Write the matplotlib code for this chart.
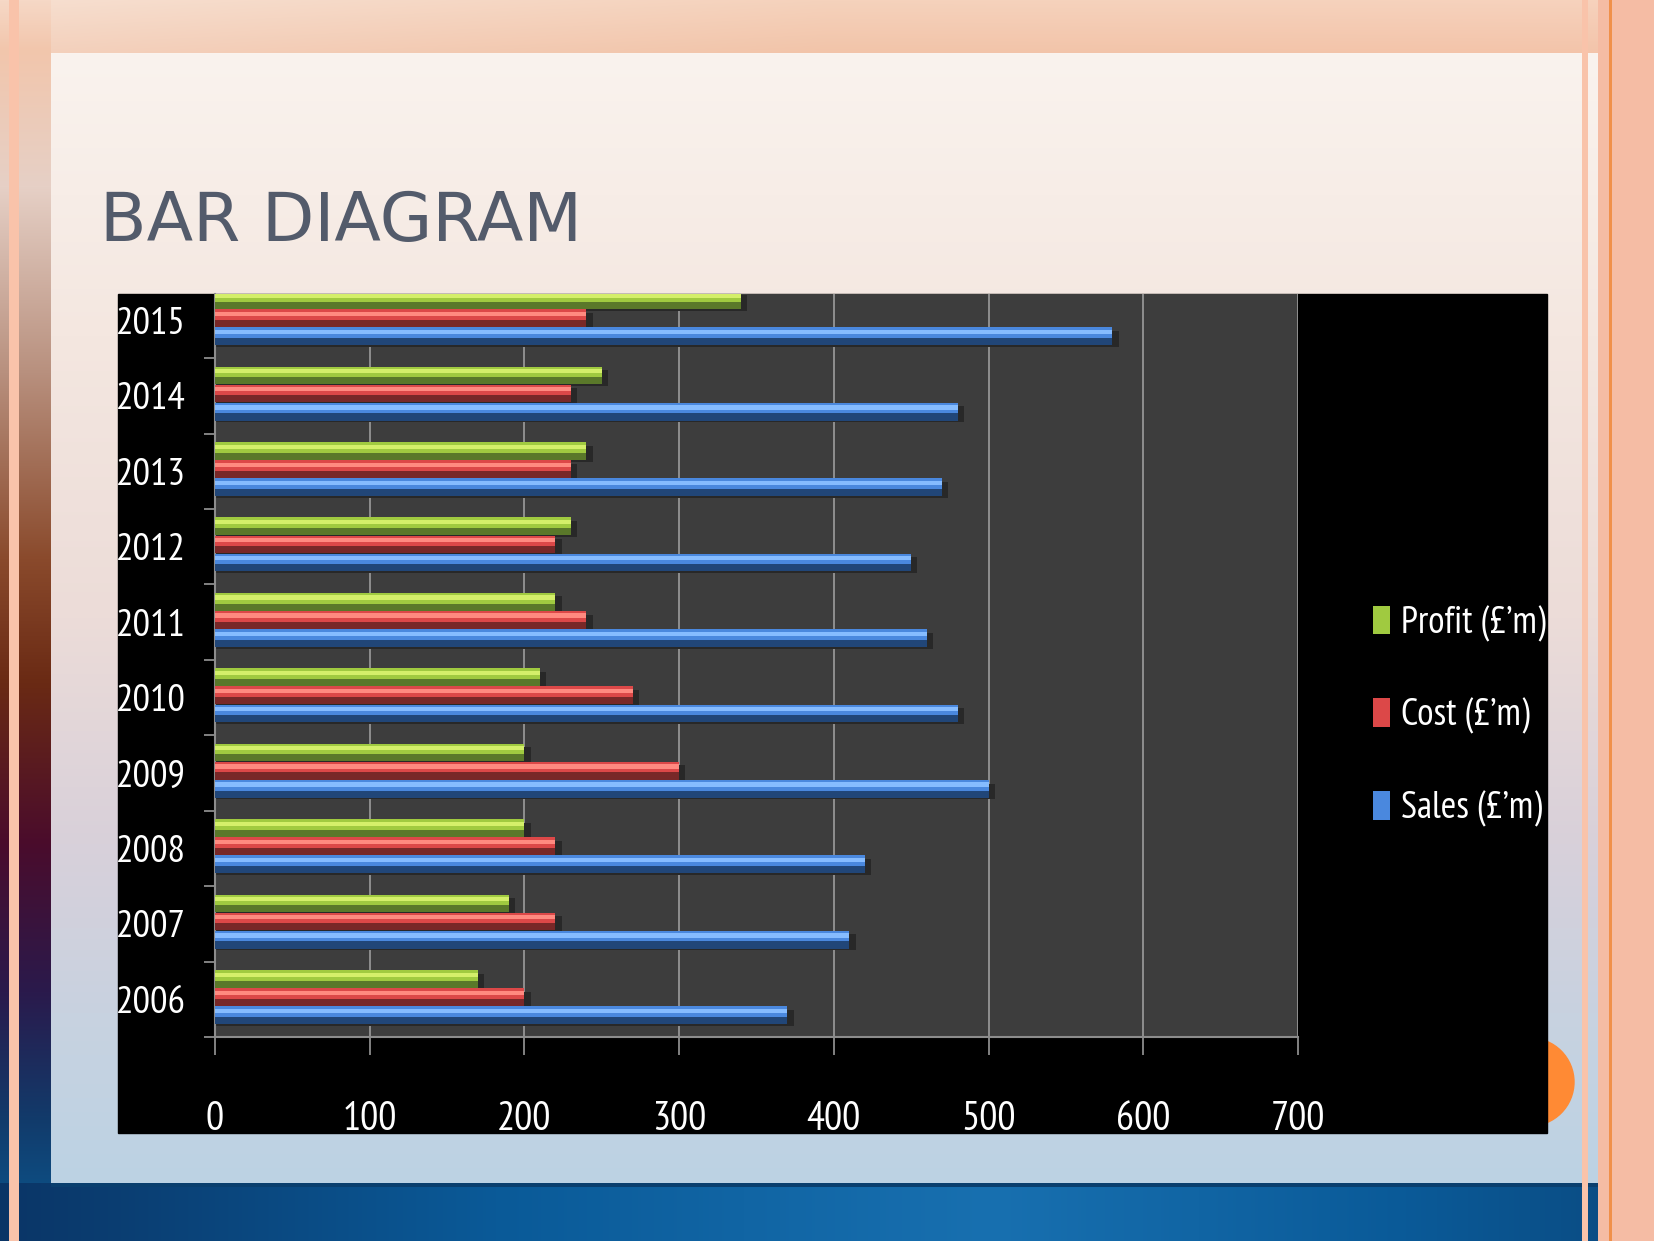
import numpy as np
import matplotlib
matplotlib.use('Agg')
import matplotlib.pyplot as plt
from matplotlib.patches import Rectangle, Circle
from matplotlib.transforms import Bbox, TransformedBbox
import logging
logging.getLogger('matplotlib.font_manager').setLevel(logging.ERROR)

# ---------------- data ----------------
years = ['2006', '2007', '2008', '2009', '2010', '2011', '2012', '2013', '2014', '2015']
profit = [170, 190, 200, 200, 210, 220, 230, 240, 250, 340]
cost = [200, 220, 220, 300, 270, 240, 220, 230, 230, 240]
sales = [370, 410, 420, 500, 480, 460, 450, 470, 480, 580]
series_labels = ['Profit (£’m)', 'Cost (£’m)', 'Sales (£’m)']
x_ticks = [0, 100, 200, 300, 400, 500, 600, 700]
title = 'BAR DIAGRAM'

W, H = 1654, 1241
fig = plt.figure(figsize=(W / 100, H / 100), dpi=100)

FONT = ['PT Sans Narrow', 'Roboto Condensed', 'Carlito', 'IBM Plex Sans Condensed', 'DejaVu Sans']


def hex2rgb(h):
    return np.array([int(h[i:i + 2], 16) / 255 for i in (1, 3, 5)])


def grad(stops, n):
    pos = np.array([s[0] for s in stops])
    cols = np.array([hex2rgb(s[1]) for s in stops])
    t = np.linspace(0, 1, n)
    return np.stack([np.interp(t, pos, cols[:, k]) for k in range(3)], axis=1)


# ---------------- slide background ----------------
img = np.zeros((H, W, 3))
outer = grad([(0, '#f6d8c6'), (0.04, '#f2c6ac'), (0.15, '#e6d0c6'), (0.3, '#b8907e'),
              (0.45, '#8a4a2c'), (0.55, '#6a2a14'), (0.68, '#4a0c2c'), (0.8, '#2a1a4c'),
              (0.9, '#123a6a'), (1.0, '#0a5a92')], H)
img[:, :, :] = outer[:, None, :]
# top band
topv = grad([(0, '#f7e2d4'), (1, '#f1c6ae')], 53)
toph = grad([(0, '#f6dccc'), (0.5, '#f3c2a4'), (1, '#f6c2a6')], W)
img[:53, 51:, :] = (topv[:, None, :] * 0.5 + toph[None, 51:, :] * 0.5)
# panel
panel = grad([(0, '#faf3ee'), (0.25, '#f4e7e0'), (0.5, '#ecdcd8'), (0.7, '#d8d0da'),
              (0.85, '#c8d2e0'), (1, '#bcd2e4')], 1183 - 53)
img[53:1183, 51:1598, :] = panel[:, None, :]
# bottom band
bot = grad([(0, '#0a3566'), (0.3, '#0a5a98'), (0.6, '#1870b0'), (0.85, '#0a5a98'), (1, '#0a4a80')], W)
img[1183:, :, :] = bot[None, :, :]
img[1183:1187, 51:1598, :] = hex2rgb('#0a3f6e')
# stripes
img[:, 9:19, :] = hex2rgb('#f9c3aa')
img[:, 1582:1588, :] = hex2rgb('#f9c3aa')
img[:, 1598:, :] = hex2rgb('#f5bca4')
img[:, 1609:1612, :] = hex2rgb('#f0904a')

bg = fig.add_axes([0, 0, 1, 1], zorder=-10)
bg.imshow(img, extent=(0, W, H, 0), aspect='auto', interpolation='bilinear')
bg.set_xlim(0, W)
bg.set_ylim(H, 0)
bg.axis('off')
bg.add_patch(Circle((1530, 1082), 44, color='#ff8a34', zorder=2))
bg.add_patch(Rectangle((118, 294), 1547 - 118, 1133 - 294, color='black', zorder=3))

fig.text(100 / W, (H - 241) / H, title, fontsize=49, color='#535b6b',
         family='DejaVu Sans', va='baseline', ha='left')

# ---------------- chart ----------------
ax = fig.add_axes([215 / W, (H - 1037) / H, (1298 - 215) / W, (1037 - 294) / H])
ax.set_facecolor('#3d3d3d')
ypos = np.arange(len(years))
h = 0.235
offsets = [0.27, 0.03, -0.21]
palettes = [('#5a782a', '#a0ca40', '#d4ef6a'),
            ('#782828', '#dc4848', '#ff8a80'),
            ('#214678', '#4a88de', '#86bcff')]
layers = [(0.0, 1.0, 0), (0.40, 1.0, 1), (0.62, 0.86, 2)]
handles = []
for vals, off, pal, lab in zip([profit, cost, sales], offsets, palettes, series_labels):
    base = ypos + off - h / 2
    ax.barh(base + h * 0.35, [v + 4 for v in vals], height=h * 0.9, color='#282828', zorder=2)
    for f0, f1, ci in layers:
        c = ax.barh(base + (f0 + f1) / 2 * h, vals, height=(f1 - f0) * h,
                    color=pal[ci], zorder=3, label=lab if ci == 1 else None)
        if ci == 1:
            handles.append(c)

ax.set_xlim(0, 700)
ax.set_ylim(-0.5, 9.35)
ax.set_axisbelow(True)
ax.xaxis.grid(True, color='#9c9c9c', lw=1.2)
for s in ['top', 'right']:
    ax.spines[s].set_visible(False)
for s in ['left', 'bottom']:
    ax.spines[s].set_color('#8c8c8c')
    ax.spines[s].set_linewidth(1.5)

ax.set_xticks(x_ticks)
ax.set_xticklabels([str(t) for t in x_ticks])
ax.tick_params(axis='x', length=13, width=1.3, color='#8c8c8c', pad=33,
               labelcolor='white', labelsize=29)
ax.set_yticks(ypos)
ax.set_yticklabels(years)
ax.set_yticks(np.arange(-0.5, 9.5, 1), minor=True)
ax.tick_params(axis='y', which='major', length=0, pad=21, labelcolor='white', labelsize=28)
ax.tick_params(axis='y', which='minor', length=8, width=1.3, color='#8c8c8c')

clipbb = TransformedBbox(Bbox.from_extents(118 / W, (H - 1133) / H, 1547 / W, (H - 294) / H),
                         fig.transFigure)
for lab in ax.get_xticklabels() + ax.get_yticklabels():
    lab.set_family(FONT)
    lab.set_clip_box(clipbb)
    lab.set_clip_on(True)

leg = ax.legend(handles, series_labels, loc='center left',
                bbox_to_anchor=(1373 / W, (H - 716) / H), bbox_transform=fig.transFigure,
                frameon=False, prop={'family': FONT, 'size': 27}, labelcolor='white',
                handlelength=0.45, handleheight=0.8, handletextpad=0.3,
                labelspacing=1.5, borderpad=0, borderaxespad=0)

fig.savefig('out.png', dpi=100)
